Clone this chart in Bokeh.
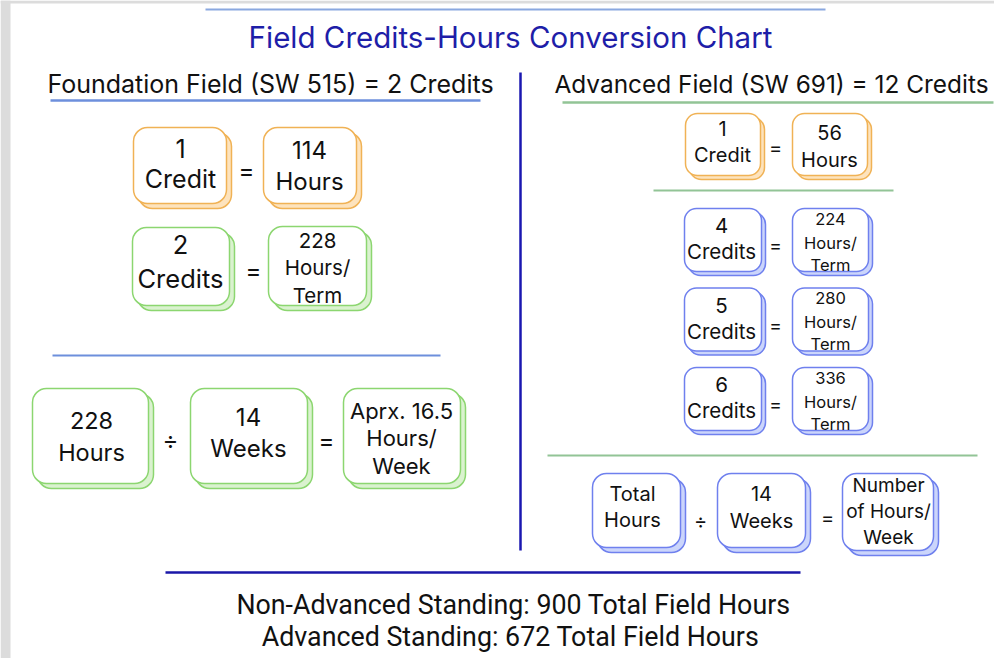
from bokeh.plotting import figure
from bokeh.models import Range1d
from bokeh.core.properties import value
from bokeh.embed import file_html
from bokeh.resources import INLINE

# ---- content (text values) ----
title = "Field Credits-Hours Conversion Chart"
left_header = "Foundation Field (SW 515) = 2 Credits"
right_header = "Advanced Field (SW 691) = 12 Credits"

left_row1 = [["1", "Credit"], ["114", "Hours"]]
left_row2 = [["2", "Credits"], ["228", "Hours/", "Term"]]
left_row3 = [["228", "Hours"], ["14", "Weeks"], ["Aprx. 16.5", "Hours/", "Week"]]

right_row1 = [["1", "Credit"], ["56", "Hours"]]
right_credits = ["4", "5", "6"]
right_hours = ["224", "280", "336"]
right_bottom = [["Total", "Hours"], ["14", "Weeks"], ["Number", "of Hours/", "Week"]]

footer = ["Non-Advanced Standing: 900 Total Field Hours",
          "Advanced Standing: 672 Total Field Hours"]

FONT = value("Inter")
FOOT_FONT = value("Roboto")
ORANGE = ("#f0b255", "#fde3bd")
GREEN = ("#8cd670", "#daf2cf")
BLUE = ("#6f80ee", "#cbd5fb")

W, H = 994, 658
p = figure(width=W, height=H, x_range=Range1d(0, W), y_range=Range1d(H, 0),
           output_backend="svg", toolbar_location=None, min_border=0)
p.axis.visible = False
p.grid.visible = False
p.outline_line_color = None
p.background_fill_color = "white"

# gray strips at the edges
p.quad(left=[0], right=[10], top=[0], bottom=[H], fill_color="#dcdcdc", line_color=None)
p.quad(left=[0], right=[W], top=[0], bottom=[3], fill_color="#dcdcdc", line_color=None)


def txt(x, y, s, size, color="#111111", align="center", font=FONT):
    p.text(x=[x], y=[y], text=[s], text_font=font, text_font_size=f"{size}px",
           text_align=align, text_baseline="middle", text_color=color)


def line(x0, x1, y0, y1, color, w=2):
    p.line(x=[x0, x1], y=[y0, y1], line_color=color, line_width=w)


def box(x0, y0, x1, y1, col, r=14, off=5):
    c, f = col
    p.quad(left=[x0 + off], right=[x1 + off], top=[y0 + off], bottom=[y1 + off],
           fill_color=f, line_color=c, line_width=1.5, border_radius=r)
    p.quad(left=[x0], right=[x1], top=[y0], bottom=[y1],
           fill_color="white", line_color=c, line_width=1.5, border_radius=r)


def lines_in(cx, ys, texts, size):
    for y, s in zip(ys, texts):
        txt(cx, y, s, size)


# title area
line(205, 825, 9, 9, "#8aa8e0", 2)
txt(510, 36, title, 29.5, color="#1e1ea8")

# headers
txt(270, 83, left_header, 25)
line(50, 480, 100, 100, "#6d8fdc", 2.5)
txt(771, 83, right_header, 24.4)
line(562, 993, 102, 102, "#92c496", 2.5)
line(520, 520, 72, 550, "#1a17b0", 2.5)

# ---- left column ----
box(133, 127, 226, 203, ORANGE)
box(263, 127, 356, 203, ORANGE)
lines_in(180, [148, 178], left_row1[0], 25)
lines_in(309, [149, 181], left_row1[1], 24)
txt(246, 170, "=", 24)

box(132, 227, 229, 305, GREEN)
box(268, 226, 366, 305, GREEN)
lines_in(180, [244, 278], left_row2[0], 25.5)
lines_in(317, [240, 267, 295], left_row2[1], 20.5)
txt(253, 270, "=", 24)

line(52, 440, 355, 355, "#6d8fdc", 2)

box(32, 388, 148, 483, GREEN)
box(190, 388, 307, 483, GREEN)
box(343, 388, 460, 483, GREEN)
lines_in(91, [420, 452], left_row3[0], 23.5)
lines_in(248, [416, 448], left_row3[1], 24)
lines_in(401, [410, 437, 465], left_row3[2], 22)
txt(170, 440, "\u00f7", 24)
txt(326, 440, "=", 24)

# ---- right column ----
box(685, 113, 760, 175, ORANGE, r=12, off=4)
box(792, 113, 867, 175, ORANGE, r=12, off=4)
lines_in(722, [128, 154], right_row1[0], 20)
lines_in(829, [132, 159], right_row1[1], 20)
txt(775, 147, "=", 20)

line(653, 893, 190, 190, "#92c496", 2)

for i, (cr, hr) in enumerate(zip(right_credits, right_hours)):
    y0 = 208 + i * 79.5
    box(684, y0, 761, y0 + 63, BLUE, r=12, off=4)
    box(792, y0, 868, y0 + 63, BLUE, r=12, off=4)
    lines_in(721, [y0 + 17, y0 + 43], [cr, "Credits"], 20.5)
    lines_in(830, [y0 + 10, y0 + 34, y0 + 56], [hr, "Hours/", "Term"], 16.5)
    txt(775, y0 + 37, "=", 19)

line(547, 977, 455, 455, "#92c496", 2)

box(592, 473, 680, 547, BLUE, r=14, off=5)
box(717, 473, 805, 547, BLUE, r=14, off=5)
box(842, 473, 933, 550, BLUE, r=14, off=5)
lines_in(632, [493, 519], right_bottom[0], 20)
lines_in(761, [493, 520], right_bottom[1], 20)
lines_in(888, [485, 511, 537], right_bottom[2], 19)
txt(700, 520, "\u00f7", 20)
txt(827, 517, "=", 20)

# ---- footer ----
line(165, 800, 572, 572, "#1a17a8", 2.5)
txt(513, 604, footer[0], 26.8, font=FOOT_FONT)
txt(510, 636, footer[1], 26.8, font=FOOT_FONT)

open("out.html", "w").write(file_html(p, INLINE))
